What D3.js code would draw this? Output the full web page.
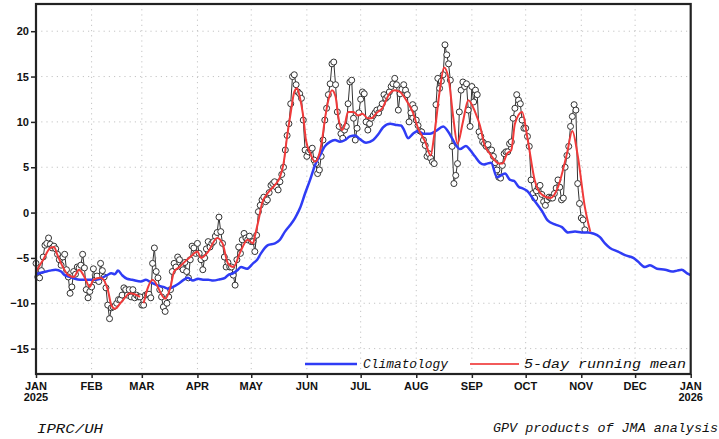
<!DOCTYPE html>
<html>
<head>
<meta charset="utf-8">
<script src="https://cdn.jsdelivr.net/npm/d3@7"></script>
<style>
  body { margin: 0; background: #fff; }
  .ylab { font-family: "Liberation Sans", Arial, sans-serif; font-weight: bold; font-size: 11px; fill: #111; }
  .mlab { font-family: "Liberation Sans Narrow", "Arial Narrow", "Liberation Sans", sans-serif; font-weight: bold; font-size: 11px; fill: #111; }
  .note { font-family: "Liberation Mono", "DejaVu Sans Mono", monospace; font-style: italic; fill: #111; }
</style>
</head>
<body>
<div id="content"></div>
<script>
// month boundaries (day of year) and tick labels
var monthStarts = [0, 31, 59, 90, 120, 151, 181, 212, 243, 273, 304, 334, 365];
var monthLabels = ["JAN", "FEB", "MAR", "APR", "MAY", "JUN", "JUL", "AUG", "SEP", "OCT", "NOV", "DEC", "JAN"];
var yearLabels = ["2025", "2026"];
var yTicks = [-15, -10, -5, 0, 5, 10, 15, 20];

// daily values, one array per month
var jan = [-5.6, -7.1, -7.2, -6.4, -4.9, -3.6, -3.4, -2.8, -3.5, -3.9, -3.7, -4.0, -4.6, -5.2, -5.8, -4.9, -4.6, -6.3, -7.1, -8.9, -8.2, -6.5, -6.8, -6.0, -6.1, -5.8, -4.6, -6.1, -8.5, -9.4, -8.7];
var feb = [-8.2, -6.2, -7.4, -7.0, -7.6, -5.6, -6.4, -7.1, -8.3, -10.2, -11.7, -10.5, -10.4, -10.3, -10.0, -9.6, -9.6, -9.1, -8.3, -8.5, -9.1, -8.5, -9.3, -8.5, -9.4, -9.1, -9.3, -9.3];
var mar = [-10.2, -10.2, -9.1, -9.0, -9.0, -9.4, -5.6, -3.9, -6.5, -7.2, -8.5, -9.3, -10.4, -10.9, -10.0, -9.3, -8.5, -6.5, -5.6, -6.0, -4.9, -5.2, -6.0, -6.3, -5.5, -6.5, -7.2, -5.2, -3.7, -3.9, -4.5];
var apr = [-3.4, -4.5, -5.2, -6.3, -5.0, -4.0, -3.2, -3.8, -3.4, -3.2, -2.6, -2.2, -0.5, -2.1, -3.4, -4.9, -6.0, -5.5, -6.0, -6.0, -6.9, -8.0, -5.2, -3.8, -4.5, -3.0, -2.3, -2.8, -3.0, -2.6];
var may = [-3.2, -3.2, -4.3, -2.5, 0.1, 0.8, 1.4, 1.7, 1.2, 1.4, 2.2, 3.0, 3.2, 3.4, 2.8, 2.5, 3.4, 4.2, 5.0, 6.9, 8.5, 9.8, 12.0, 15.0, 15.2, 14.1, 13.3, 13.1, 12.6, 10.2, 6.9];
var jun = [6.2, 6.7, 6.9, 7.1, 5.8, 5.4, 4.3, 4.7, 6.2, 8.0, 10.2, 11.5, 13.0, 14.2, 16.4, 16.6, 14.1, 11.1, 9.5, 8.7, 8.2, 9.1, 9.5, 12.0, 14.4, 14.6, 10.4, 8.0, 9.3, 11.0];
var jul = [12.5, 13.3, 13.1, 10.0, 9.1, 9.8, 10.4, 10.7, 11.0, 11.3, 11.0, 11.5, 12.0, 13.0, 12.6, 12.8, 13.3, 13.9, 14.2, 14.8, 14.1, 11.3, 13.1, 13.6, 14.1, 13.5, 13.0, 10.0, 11.0, 11.9, 11.5];
var aug = [10.2, 9.6, 9.0, 8.9, 8.0, 7.4, 6.2, 6.5, 6.0, 5.6, 5.4, 11.9, 14.8, 13.7, 14.5, 15.2, 18.5, 17.4, 16.4, 14.6, 7.3, 3.2, 4.1, 5.4, 11.1, 13.5, 14.4, 13.9, 14.2, 11.3, 9.5];
var sep = [13.9, 12.2, 13.5, 13.0, 8.9, 8.4, 7.8, 7.6, 7.3, 7.5, 6.9, 6.9, 6.2, 5.5, 4.7, 3.9, 3.8, 5.2, 6.5, 6.7, 6.7, 7.6, 7.8, 10.4, 11.5, 13.0, 12.4, 12.0, 10.2, 9.3];
var oct = [9.3, 8.4, 7.3, 3.6, 2.1, 1.6, 2.4, 2.8, 3.0, 2.0, 1.2, 0.8, 1.4, 1.7, 1.6, 1.6, 2.1, 2.7, 3.6, 2.8, 1.4, 1.6, 5.0, 6.3, 7.3, 9.5, 10.6, 11.9, 11.3, 3.2, 1.0];
var nov = [-0.6, -0.8, -1.9];

// 5-day running mean
var meanDays = [0, 4, 8, 10, 12, 15, 18, 21, 24, 27, 30, 32, 36, 40, 42, 44, 47, 50, 52, 55, 58, 58.5,
  60, 62, 65, 72, 75, 77, 80, 82, 86, 90, 92, 96, 101, 104, 107, 110, 114, 118, 121, 122, 124, 126, 129,
  133, 136, 138, 140, 142, 144, 145.5, 147, 149, 150.5, 153, 155.5, 158, 159.5, 161, 163, 165, 167, 168.5,
  170.5, 172, 174, 177, 179.5, 182, 185, 187, 190, 193, 197, 200, 203, 207, 210, 213, 217, 220, 222, 225,
  227.5, 230, 232.5, 235, 238, 241, 245, 247.5, 250, 253, 256, 258, 260, 262.6, 265, 267, 271, 274, 278,
  282, 287, 291, 296, 299, 302, 306, 309];
var meanVals = [-6.5, -5.2, -3.9, -3.8, -4.7, -6.0, -6.9, -7.1, -6.3, -7.1, -8.2, -7.4, -7.2, -8.5, -10.2, -10.6, -10.0, -9.3, -8.9, -9.0, -9.3, null,
  -10.0, -8.5, -7.4, -9.5, -8.2, -6.5, -6.0, -5.6, -4.9, -4.3, -5.0, -4.3, -2.8, -3.4, -5.6, -6.0, -4.3, -3.0, -3.4, -2.6, -0.9, 1.0, 2.1,
  3.0, 3.9, 5.4, 8.4, 11.0, 13.3, 13.7, 12.8, 10.6, 8.0, 6.5, 5.6, 6.5, 8.0, 10.2, 12.4, 13.5, 12.8, 10.6,
  9.1, 9.6, 11.1, 11.1, 10.7, 10.9, 10.4, 10.4, 11.0, 11.5, 13.1, 13.5, 13.3, 12.2, 11.1, 9.3, 7.8, 6.3, 8.5, 13.3,
  16.0, 14.8, 10.7, 7.6, 10.0, 12.4, 11.0, 9.6, 7.5, 6.5, 5.7, 5.4, 5.4, 6.5, 6.9, 9.8, 11.1, 8.2, 3.6,
  2.0, 1.6, 2.8, 6.5, 9.0, 6.3, 0.6, -2.1];

// climatology (blue), sampled along the year
var climDays = [0, 5.6, 7.8, 11, 14, 16, 19, 21.7, 24.5, 29.5, 33, 35.7, 39.6, 42, 44, 45.7, 48, 50.7, 53.5, 58.5,
  61.3, 64, 67.4, 71, 73.6, 76.4, 79, 82.5, 84.7, 87.5, 90.3, 93.1, 96, 98.7, 102.6, 105.4, 107, 109.8, 112.6,
  114.3, 117.6, 121, 123.3, 125.4, 129.3, 133.2, 136, 138.8, 141.6, 144.4, 147.2, 150, 152.8, 155.5, 158.3, 161,
  163.9, 166.7, 169.5, 172.3, 175, 177.8, 180.6, 184, 188, 190.7, 193.5, 197.4, 201.3, 203.5, 205.2, 207.4, 210.2,
  213, 215.8, 219.7, 223, 227, 230.8, 233.6, 236.4, 239.7, 242, 244.7, 247.5, 249.8, 251.4, 253.7, 257, 261.5,
  264.3, 266.5, 269.3, 271, 273.7, 277.6, 282, 285.4, 289.3, 293.2, 296.6, 300.5, 304.4, 307.7, 310.5, 314.4,
  317.2, 320, 324.5, 328.4, 333, 335.6, 339.5, 342.3, 346.2, 350.8, 354.6, 357.4, 360, 363, 365];
var climVals = [-6.8, -6.5, -6.4, -6.3, -6.5, -6.9, -7.1, -7.3, -7.4, -7.4, -7.4, -7.3, -6.9, -6.7, -6.8, -6.4, -6.9, -7.3, -7.4, -7.6,
  -7.4, -7.7, -8.0, -8.2, -8.4, -8.2, -7.9, -7.4, -7.2, -7.5, -7.3, -7.4, -7.4, -7.5, -7.35, -7.2, -6.9, -6.7, -6.3,
  -6.0, -6.2, -5.6, -5.2, -4.5, -3.6, -3.4, -3.0, -2.1, -1.4, -0.6, 0.5, 2.1, 3.6, 5.2, 6.3, 7.3,
  7.8, 8.0, 7.8, 8.0, 8.4, 8.5, 8.1, 7.7, 8.0, 8.6, 9.4, 9.8, 9.65, 9.6, 9.1, 8.2, 8.7,
  9.0, 8.7, 8.7, 9.0, 9.5, 8.6, 7.6, 7.0, 7.35, 6.9, 6.2, 5.5, 5.3, 5.4, 5.5, 3.9, 4.3,
  3.6, 3.5, 2.8, 2.7, 2.4, 1.4, 0.2, -0.9, -1.3, -1.6, -2.2, -2.1, -2.2, -2.2, -2.3, -2.7,
  -3.4, -3.9, -4.3, -4.7, -5.0, -5.4, -6.0, -5.8, -6.2, -6.3, -6.5, -6.4, -6.3, -6.7, -6.9];

function render() {
  var W = 719, H = 439;
  var left = 36, right = 690.7, top = 4, bottom = 374;

  var svg = d3.select("div#content").append("svg")
    .attr("width", W)
    .attr("height", H)
    .style("display", "block");

  var x = d3.scaleLinear().domain([0, 365]).range([left, right]);
  var y = d3.scaleLinear().domain([-17.8, 23]).range([bottom, top]);

  var daily = [jan, feb, mar, apr, may, jun, jul, aug, sep, oct, nov].flatMap(function(arr, i) {
    return arr.map(function(v, j) { return [monthStarts[i] + j, v]; });
  });
  var mean = meanDays.map(function(d, i) { return [d, meanVals[i]]; });
  var clim = climDays.map(function(d, i) { return [d, climVals[i]]; });

  // dotted grid
  var grid = svg.append("g").attr("stroke", "#c4c4c4").attr("stroke-width", 1).attr("stroke-dasharray", "1.2,4");
  grid.selectAll(".vg").data(monthStarts.slice(1, -1)).enter().append("line")
    .attr("x1", function(d) { return x(d); }).attr("x2", function(d) { return x(d); })
    .attr("y1", top).attr("y2", bottom);
  grid.selectAll(".hg").data(yTicks).enter().append("line")
    .attr("x1", left).attr("x2", right)
    .attr("y1", function(d) { return y(d); }).attr("y2", function(d) { return y(d); });

  // y axis
  var yAxis = svg.append("g")
    .attr("transform", "translate(" + left + ",0)")
    .call(d3.axisLeft(y).tickValues(yTicks).tickSize(5).tickPadding(2));
  yAxis.select(".domain").remove();
  yAxis.selectAll("line").attr("stroke", "#222").attr("stroke-width", 1.5);
  yAxis.selectAll("text").attr("class", "ylab").attr("fill", null);

  // x axis
  var xAxis = svg.append("g")
    .attr("transform", "translate(0," + bottom + ")")
    .call(d3.axisBottom(x).tickValues(monthStarts).tickSize(4).tickFormat(""));
  xAxis.select(".domain").remove();
  xAxis.selectAll("line").attr("stroke", "#222").attr("stroke-width", 1.5);

  svg.selectAll(".mlab").data(monthStarts).enter().append("text")
    .attr("class", "mlab")
    .attr("x", function(d) { return x(d); })
    .attr("y", 389.5)
    .attr("text-anchor", "middle")
    .text(function(d, i) { return monthLabels[i]; });

  svg.selectAll(".yrlab").data([0, 365]).enter().append("text")
    .attr("class", "mlab")
    .attr("x", function(d) { return x(d); })
    .attr("y", 400.5)
    .attr("text-anchor", "middle")
    .text(function(d, i) { return yearLabels[i]; });

  // daily values
  var line = d3.line()
    .x(function(d) { return x(d[0]); })
    .y(function(d) { return y(d[1]); });

  svg.append("path")
    .datum(daily)
    .attr("fill", "none")
    .attr("stroke", "#333")
    .attr("stroke-width", 1)
    .attr("d", line);

  svg.selectAll(".circle").data(daily).enter().append("circle")
    .attr("class", "circle")
    .attr("r", 3)
    .attr("cx", function(d) { return x(d[0]); })
    .attr("cy", function(d) { return y(d[1]); })
    .attr("fill", "#fff")
    .attr("stroke", "#333")
    .attr("stroke-width", 1);

  // climatology
  svg.append("path")
    .datum(clim)
    .attr("fill", "none")
    .attr("stroke", "#2f3cf5")
    .attr("stroke-width", 2.5)
    .attr("stroke-linejoin", "round")
    .attr("d", line.curve(d3.curveMonotoneX));

  // running mean
  var meanLine = d3.line()
    .defined(function(d) { return d[1] != null; })
    .curve(d3.curveMonotoneX)
    .x(function(d) { return x(d[0]); })
    .y(function(d) { return y(d[1]); });

  svg.append("path")
    .datum(mean)
    .attr("fill", "none")
    .attr("stroke", "#f03a3a")
    .attr("stroke-width", 2)
    .attr("d", meanLine);

  // legend
  svg.append("line").attr("x1", 305).attr("x2", 357).attr("y1", 364).attr("y2", 364)
    .attr("stroke", "#2f3cf5").attr("stroke-width", 2.5);
  svg.append("text").attr("class", "note").attr("x", 363).attr("y", 367.5)
    .style("font-size", "12.5px").attr("textLength", 85).attr("lengthAdjust", "spacingAndGlyphs")
    .text("Climatology");
  svg.append("line").attr("x1", 470).attr("x2", 519).attr("y1", 364).attr("y2", 364)
    .attr("stroke", "#f25a5a").attr("stroke-width", 2);
  svg.append("text").attr("class", "note").attr("x", 524).attr("y", 367.5)
    .style("font-size", "12.5px").attr("textLength", 162).attr("lengthAdjust", "spacingAndGlyphs")
    .text("5-day running mean");

  // frame
  svg.append("rect")
    .attr("x", left).attr("y", top)
    .attr("width", right - left).attr("height", bottom - top)
    .attr("fill", "none").attr("stroke", "#222").attr("stroke-width", 2.2);

  // footer
  svg.append("text").attr("class", "note").attr("x", 37).attr("y", 432.5)
    .style("font-size", "13.5px").attr("textLength", 66).attr("lengthAdjust", "spacingAndGlyphs")
    .text("IPRC/UH");
  svg.append("text").attr("class", "note").attr("x", 493).attr("y", 432)
    .style("font-size", "13px").attr("textLength", 225).attr("lengthAdjust", "spacingAndGlyphs")
    .text("GPV products of JMA analysis");
}

render();
</script>
</body>
</html>
